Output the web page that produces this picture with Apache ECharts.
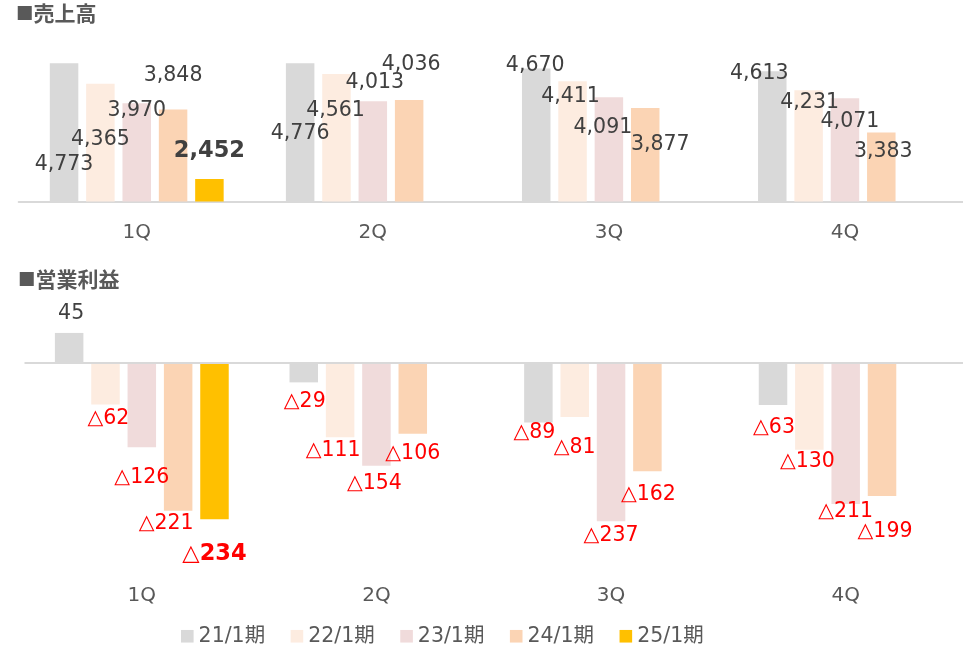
<!DOCTYPE html>
<html>
<head>
<meta charset="utf-8">
<title>売上高・営業利益</title>
<script src="https://cdn.jsdelivr.net/npm/echarts@6/dist/echarts.min.js"></script>
<style>
  html, body { margin: 0; padding: 0; background: #fff; }
  #main { width: 963px; height: 650px; }
</style>
</head>
<body>
<div id="main"></div>
<script>
  var quarters = ['1Q', '2Q', '3Q', '4Q'];
  var periods = ['21/1期', '22/1期', '23/1期', '24/1期', '25/1期'];
  var colors = ['#d9d9d9', '#fdece0', '#f0dbdb', '#fbd4b4', '#ffc000'];

  // 売上高
  var sales21 = [4773, 4776, 4670, 4613];
  var sales22 = [4365, 4561, 4411, 4231];
  var sales23 = [3970, 4013, 4091, 4071];
  var sales24 = [3848, 4036, 3877, 3383];
  var sales25 = [2452, null, null, null];

  // 営業利益
  var profit21 = [45, -29, -89, -63];
  var profit22 = [-62, -111, -81, -130];
  var profit23 = [-126, -154, -237, -211];
  var profit24 = [-221, -106, -162, -199];
  var profit25 = [-234, null, null, null];

  // ラベルの手動ずらし [dx, dy]（棒の端からの距離）
  var salesShift = [
    [[0, 101], [0, 71], [-1, -3], [-13, 2]],
    [[0, 56], [-1, 37], [-2, 15], [1, 12]],
    [[0, 7], [2, -19], [-6, 30], [5, 23]],
    [[0, -34], [2, -35], [15, 37], [2, 19]],
    [[0, -28], [0, 0], [0, 0], [0, 0]]
  ];
  var profitShift = [
    [[2, -19], [1, 19], [-4, 10], [1, 23]],
    [[3, 14], [-7, 14], [0, 31], [-2, 12]],
    [[0, 31], [-2, 18], [0, 14], [0, 8]],
    [[-12, 13], [0, 20], [1, 23], [3, 36]],
    [[0, 35], [0, 0], [0, 0], [0, 0]]
  ];

  var salesData = [sales21, sales22, sales23, sales24, sales25];
  var profitData = [profit21, profit22, profit23, profit24, profit25];

  var fontNum = "'DejaVu Sans', 'Noto Sans CJK JP', sans-serif";
  var fontJp = "'Noto Sans CJK JP', sans-serif";

  function fmt(p) {
    var v = p.value;
    if (v == null) return '';
    return v < 0 ? '△' + Math.abs(v) : echarts.format.addCommas(v);
  }

  var series = [];
  periods.forEach(function (name, s) {
    var last = s === periods.length - 1;
    series.push({
      name: name,
      type: 'bar',
      xAxisIndex: 0,
      yAxisIndex: 0,
      barWidth: 28.5,
      barGap: '27.5%',
      itemStyle: { color: colors[s] },
      label: {
        show: true,
        position: 'top',
        distance: 0,
        verticalAlign: 'middle',
        formatter: fmt,
        color: '#404040',
        fontFamily: fontNum,
        fontSize: last ? 22.5 : 20.5,
        fontWeight: last ? 'bold' : 'normal'
      },
      data: salesData[s].map(function (v, i) {
        return { value: v, label: { offset: salesShift[s][i] } };
      })
    });
    series.push({
      name: name,
      type: 'bar',
      xAxisIndex: 1,
      yAxisIndex: 1,
      barWidth: 28.5,
      barGap: '27.5%',
      itemStyle: { color: colors[s] },
      label: {
        show: true,
        distance: 0,
        verticalAlign: 'middle',
        formatter: fmt,
        fontFamily: fontNum,
        fontSize: last ? 22.5 : 20.5,
        fontWeight: last ? 'bold' : 'normal'
      },
      markLine: s === 0 ? {
        silent: true,
        symbol: 'none',
        label: { show: false },
        lineStyle: { color: '#d9d9d9', width: 2, type: 'solid' },
        data: [{ yAxis: 0 }]
      } : undefined,
      data: profitData[s].map(function (v, i) {
        return {
          value: v,
          label: {
            position: v >= 0 ? 'top' : 'bottom',
            color: v >= 0 ? '#404040' : '#ff0000',
            offset: profitShift[s][i]
          }
        };
      })
    });
  });

  var titleRich = {
    sq: { color: '#595959', fontSize: 17.5, fontFamily: fontJp },
    t: { color: '#595959', fontSize: 21, fontWeight: 'bold', fontFamily: fontJp }
  };

  var myChart = echarts.init(document.getElementById('main'));
  var option = {
    animation: false,
    title: [
      {
        text: '{sq|■}{t|売上高}', left: 16, top: 3, padding: 0,
        textStyle: { rich: titleRich }
      },
      {
        text: '{sq|■}{t|営業利益}', left: 18, top: 269, padding: 0,
        textStyle: { rich: titleRich }
      }
    ],
    legend: {
      data: periods,
      left: 181,
      top: 626,
      padding: 0,
      icon: 'rect',
      itemWidth: 12.6,
      itemHeight: 12.6,
      itemGap: 25.5,
      textStyle: { color: '#595959', fontSize: 20.5, fontFamily: fontNum }
    },
    grid: [
      { left: 18.7, width: 945.6, top: 52, height: 149.5 },
      { left: 24.5, width: 946.8, top: 296.2, height: 267.2 }
    ],
    xAxis: [
      {
        type: 'category', gridIndex: 0, data: quarters,
        axisTick: { show: false },
        axisLine: { lineStyle: { color: '#d9d9d9', width: 2 } },
        axisLabel: { color: '#595959', fontSize: 20, margin: 21, fontFamily: fontNum }
      },
      {
        type: 'category', gridIndex: 1, data: quarters,
        axisTick: { show: false },
        axisLine: { show: false, onZero: false },
        axisLabel: { color: '#595959', fontSize: 20, margin: 22, fontFamily: fontNum }
      }
    ],
    yAxis: [
      { type: 'value', gridIndex: 0, min: 2000, max: 5000, show: false },
      { type: 'value', gridIndex: 1, min: -300, max: 100, show: false }
    ],
    series: series
  };
  myChart.setOption(option);
</script>
</body>
</html>
